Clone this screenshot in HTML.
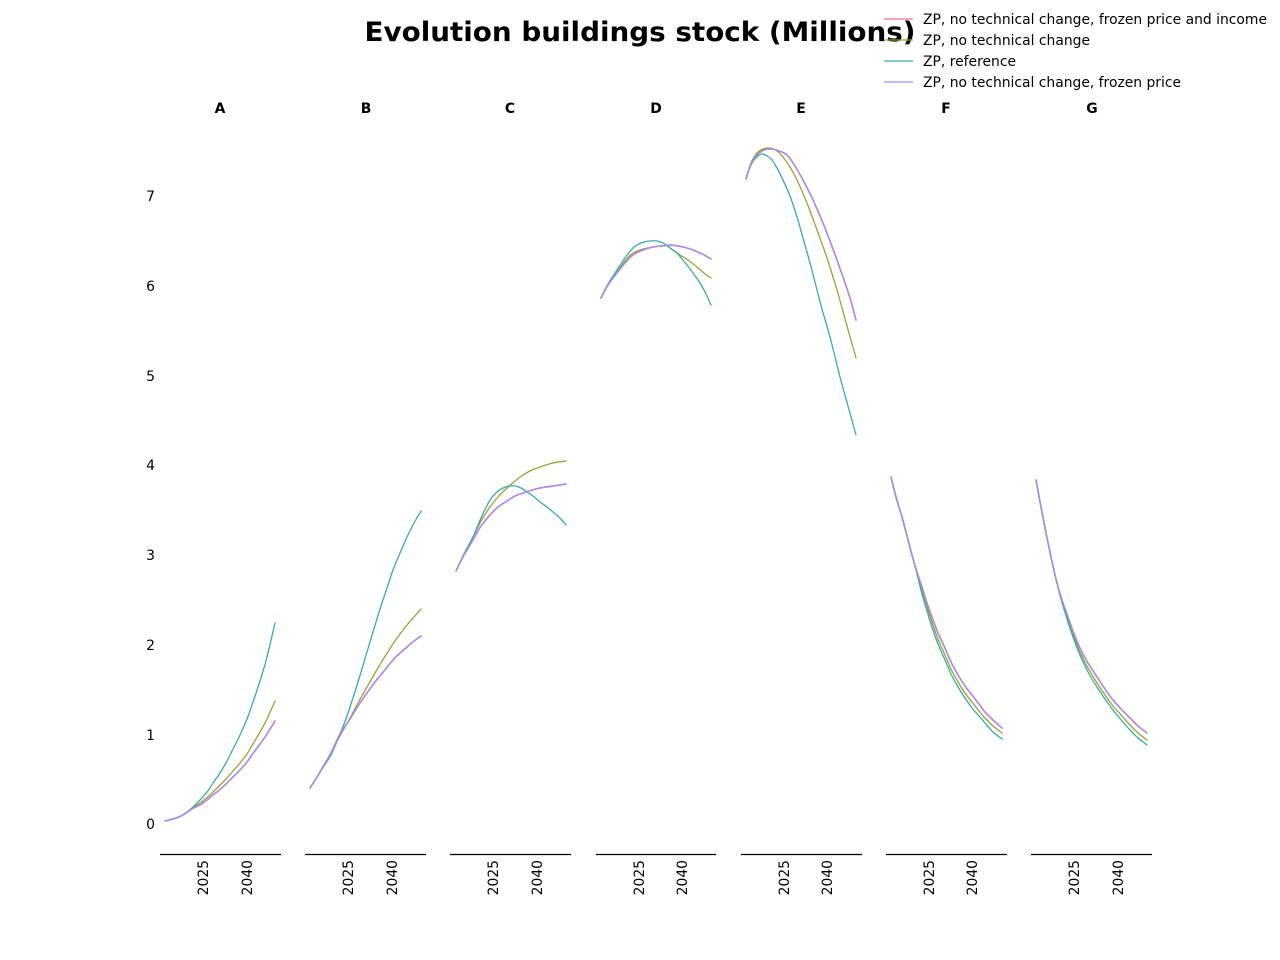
<!DOCTYPE html>
<html><head><meta charset="utf-8"><style>
html,body{margin:0;padding:0;background:#fff;}
svg{display:block;}
text{font-family:"DejaVu Sans","Liberation Sans",sans-serif;fill:#000;}
.ln{fill:none;stroke-width:1.3;stroke-linejoin:round;stroke-linecap:round;}
.pk{stroke:#f77189;stroke-width:1.6;}
.ol{stroke:#97a431;}
.te{stroke:#36ada4;}
.pu{stroke:#a48cf4;stroke-width:1.4;}
.yt{font-size:13.9px;text-anchor:end;}
.xt{font-size:13.9px;text-anchor:end;}
.st{font-size:13.9px;font-weight:bold;text-anchor:middle;}
.lg{font-size:13.9px;}
</style></head><body>
<svg id="s" width="1280" height="960" viewBox="0 0 1280 960" xmlns="http://www.w3.org/2000/svg">
<rect width="1280" height="960" fill="#fff"/>
<text x="640" y="41" font-size="27" font-weight="bold" text-anchor="middle" textLength="551" lengthAdjust="spacingAndGlyphs">Evolution buildings stock (Millions)</text>

<!-- legend -->
<line x1="884" y1="19" x2="913" y2="19" stroke="#f77189" stroke-width="1.3"/>
<line x1="884" y1="40" x2="913" y2="40" stroke="#97a431" stroke-width="1.3"/>
<line x1="884" y1="61" x2="913" y2="61" stroke="#36ada4" stroke-width="1.3"/>
<line x1="884" y1="82" x2="913" y2="82" stroke="#a48cf4" stroke-width="1.3"/>
<text class="lg" x="923" y="24" textLength="344" lengthAdjust="spacingAndGlyphs">ZP, no technical change, frozen price and income</text>
<text class="lg" x="923" y="45" textLength="167" lengthAdjust="spacingAndGlyphs">ZP, no technical change</text>
<text class="lg" x="923" y="66" textLength="93" lengthAdjust="spacingAndGlyphs">ZP, reference</text>
<text class="lg" x="923" y="87" textLength="258" lengthAdjust="spacingAndGlyphs">ZP, no technical change, frozen price</text>

<!-- y ticks -->
<text class="yt" x="155" y="829">0</text>
<text class="yt" x="155" y="740">1</text>
<text class="yt" x="155" y="650">2</text>
<text class="yt" x="155" y="560">3</text>
<text class="yt" x="155" y="470">4</text>
<text class="yt" x="155" y="381">5</text>
<text class="yt" x="155" y="291">6</text>
<text class="yt" x="155" y="201">7</text>

<!-- subplot titles -->
<text class="st" x="220" y="113">A</text>
<text class="st" x="366" y="113">B</text>
<text class="st" x="510" y="113">C</text>
<text class="st" x="656" y="113">D</text>
<text class="st" x="801" y="113">E</text>
<text class="st" x="946" y="113">F</text>
<text class="st" x="1092" y="113">G</text>

<!-- x axes -->
<g stroke="#000" stroke-width="1.2">
<line x1="160" y1="854.5" x2="281" y2="854.5"/>
<line x1="305" y1="854.5" x2="426" y2="854.5"/>
<line x1="450" y1="854.5" x2="571" y2="854.5"/>
<line x1="596" y1="854.5" x2="716" y2="854.5"/>
<line x1="741" y1="854.5" x2="862" y2="854.5"/>
<line x1="886" y1="854.5" x2="1007" y2="854.5"/>
<line x1="1031" y1="854.5" x2="1152" y2="854.5"/>
</g>
<g>
<text class="xt" transform="translate(208,860) rotate(-90)">2025</text>
<text class="xt" transform="translate(252,860) rotate(-90)">2040</text>
<text class="xt" transform="translate(353,860) rotate(-90)">2025</text>
<text class="xt" transform="translate(397,860) rotate(-90)">2040</text>
<text class="xt" transform="translate(498,860) rotate(-90)">2025</text>
<text class="xt" transform="translate(542,860) rotate(-90)">2040</text>
<text class="xt" transform="translate(644,860) rotate(-90)">2025</text>
<text class="xt" transform="translate(687,860) rotate(-90)">2040</text>
<text class="xt" transform="translate(789,860) rotate(-90)">2025</text>
<text class="xt" transform="translate(832,860) rotate(-90)">2040</text>
<text class="xt" transform="translate(934,860) rotate(-90)">2025</text>
<text class="xt" transform="translate(977,860) rotate(-90)">2040</text>
<text class="xt" transform="translate(1079,860) rotate(-90)">2025</text>
<text class="xt" transform="translate(1123,860) rotate(-90)">2040</text>
</g>

<!-- A -->
<polyline class="ln pk" points="165,821 173,819 180,816.5 187,812.3 193,808.3 200,805 207,800 213,795 220,789.5 227,783 233,777 240,770 247,762 253,753.5 260,744 267,734 275,721"/>
<polyline class="ln ol" points="165,821 173,819 180,816.5 187,812.3 193,808 200,803 207,797.5 213,792 220,785 227,778 233,771 240,763 247,754 253,744 260,732 267,719 275,701"/>
<polyline class="ln te" points="165,821 173,819 180,816.5 187,812 193,807 200,800 207,792 213,783 220,773 227,761 233,749 240,735 247,719 253,702 260,681 267,657 275,623"/>
<polyline class="ln pu" points="165,821 173,819 180,816.5 187,812.3 193,808.3 200,805 207,800 213,795 220,789.5 227,783 233,777 240,770 247,762 253,753.5 260,744 267,734 275,721"/>

<!-- B -->
<polyline class="ln pk" points="310,788 317,777 324,765 331,753 340,734 350,719 358,706 367,693 375,682 384,671 393,660 400,653 407,647 414,641 421,636"/>
<polyline class="ln ol" points="310,788 317,777 324,765 331,753 340,736 350,718 358,703 367,687 375,673 384,658 393,644 400,634 407,625 414,617 421,609"/>
<polyline class="ln te" points="310,788 317,777 324,766 331,755 337,741 344,724 350,707 358,682 367,652 373,632 380,609 387,588 393,570 400,553 407,537 414,523 421,511"/>
<polyline class="ln pu" points="310,788 317,777 324,765 331,753 340,734 350,719 358,706 367,693 375,682 384,671 393,660 400,653 407,647 414,641 421,636"/>

<!-- C -->
<polyline class="ln pk" points="456,571 464,555 473,540 481,526 490,515 498,507 507,501 515,496 523,493 532,490 540,488 553,486 566,484"/>
<polyline class="ln ol" points="456,571 464,554 473,537 481,521 490,507 498,497 507,488 515,481 523,475 532,470 540,467 553,463 566,461"/>
<polyline class="ln te" points="456,571 464,554 473,537 481,518 490,500 497,492 503,488 509,486 515,486 521,488 527,492 533,496 540,502 547,507 553,512 560,518 566,525"/>
<polyline class="ln pu" points="456,571 464,555 473,540 481,526 490,515 498,507 507,501 515,496 523,493 532,490 540,488 553,486 566,484"/>

<!-- D -->
<polyline class="ln pk" points="601,298 608,285 617,273 625,263 633,255 643,250 653,247 662,246 670,245 678,246 687,248 693,250 700,253 706,256 711,259"/>
<polyline class="ln ol" points="601,298 608,285 617,272 625,261 633,253 643,249 653,247 660,246 667,246 673,250 680,255 688,260 697,267 704,273 711,278"/>
<polyline class="ln te" points="601,298 608,284 617,270 625,258 633,248 641,243 650,241 657,241 663,243 670,248 677,253 682,259 687,265 693,273 700,283 706,294 711,305"/>
<polyline class="ln pu" points="601,298 608,285 617,273 625,263 633,255 643,250 653,247 662,246 670,245 678,246 687,248 693,250 700,253 706,256 711,259"/>

<!-- E -->
<polyline class="ln pk" points="746,179 751,164 757,155 764,150 772,149 779,151 787,155 795,166 803,180 813,200 823,223 833,249 843,277 850,298 856,320"/>
<polyline class="ln ol" points="746,179 751,163 757,153 763,149 770,148 777,151 783,157 790,167 797,180 807,203 817,230 827,258 837,290 847,326 856,358"/>
<polyline class="ln te" points="746,179 750,167 754,160 758,156 762,154 767,156 772,160 777,168 783,180 790,196 797,217 803,238 810,263 816,286 822,309 830,337 840,377 848,406 856,435"/>
<polyline class="ln pu" points="746,179 751,164 757,155 764,150 772,149 779,151 787,155 795,166 803,180 813,200 823,223 833,249 843,277 850,298 856,320"/>

<!-- F -->
<polyline class="ln pk" points="891,477 896,497 902,517 907,536 912,555 917,572 922,587 927,603 932,617 938,633 945,648 951,662 958,675 965,686 972,695 979,704 985,712 993,720 1002,728"/>
<polyline class="ln ol" points="891,477 896,497 902,517 907,536 912,555 917,573 922,590 927,607 932,622 938,639 945,655 951,669 958,682 965,693 972,702 979,711 985,718 993,726 1002,733"/>
<polyline class="ln te" points="891,477 896,497 902,517 907,536 912,555 917,574 922,594 927,611 932,627 938,644 945,660 951,674 958,687 965,698 972,708 979,716 985,723 993,732 1002,739"/>
<polyline class="ln pu" points="891,477 896,497 902,517 907,536 912,555 917,572 922,587 927,603 932,617 938,633 945,648 951,662 958,675 965,686 972,695 979,704 985,712 993,720 1002,728"/>

<!-- G -->
<polyline class="ln pk" points="1036,480 1041,507 1046,533 1051,557 1056,579 1061,597 1067,614 1073,631 1080,648 1088,663 1097,677 1105,689 1113,700 1122,710 1130,718 1138,726 1147,733"/>
<polyline class="ln ol" points="1036,480 1041,507 1046,533 1051,557 1056,579 1061,598 1067,617 1073,634 1080,652 1088,668 1097,683 1105,695 1113,706 1122,716 1130,725 1138,733 1147,740"/>
<polyline class="ln te" points="1036,480 1041,507 1046,533 1051,557 1056,579 1061,599 1067,619 1073,637 1080,655 1088,672 1097,687 1105,699 1113,710 1122,721 1130,730 1138,738 1147,745"/>
<polyline class="ln pu" points="1036,480 1041,507 1046,533 1051,557 1056,579 1061,597 1067,614 1073,631 1080,648 1088,663 1097,677 1105,689 1113,700 1122,710 1130,718 1138,726 1147,733"/>
</svg>
<script>
(function(){
  var NS="http://www.w3.org/2000/svg";
  var pls=document.querySelectorAll("polyline.ln");
  for(var k=0;k<pls.length;k++){
    var pl=pls[k];
    var nums=pl.getAttribute("points").trim().split(/[\s,]+/).map(Number);
    var p=[];for(var i=0;i<nums.length;i+=2)p.push([nums[i],nums[i+1]]);
    var d="M"+p[0][0]+","+p[0][1];
    for(var i=0;i<p.length-1;i++){
      var p0=p[i>0?i-1:i],p1=p[i],p2=p[i+1],p3=p[i+2<p.length?i+2:i+1];
      var c1x=p1[0]+(p2[0]-p0[0])/6,c1y=p1[1]+(p2[1]-p0[1])/6;
      var c2x=p2[0]-(p3[0]-p1[0])/6,c2y=p2[1]-(p3[1]-p1[1])/6;
      d+=" C"+c1x.toFixed(2)+","+c1y.toFixed(2)+" "+c2x.toFixed(2)+","+c2y.toFixed(2)+" "+p2[0]+","+p2[1];
    }
    var path=document.createElementNS(NS,"path");
    path.setAttribute("d",d);
    path.setAttribute("class",pl.getAttribute("class"));
    pl.parentNode.replaceChild(path,pl);
  }
})();
</script>
</body></html>
